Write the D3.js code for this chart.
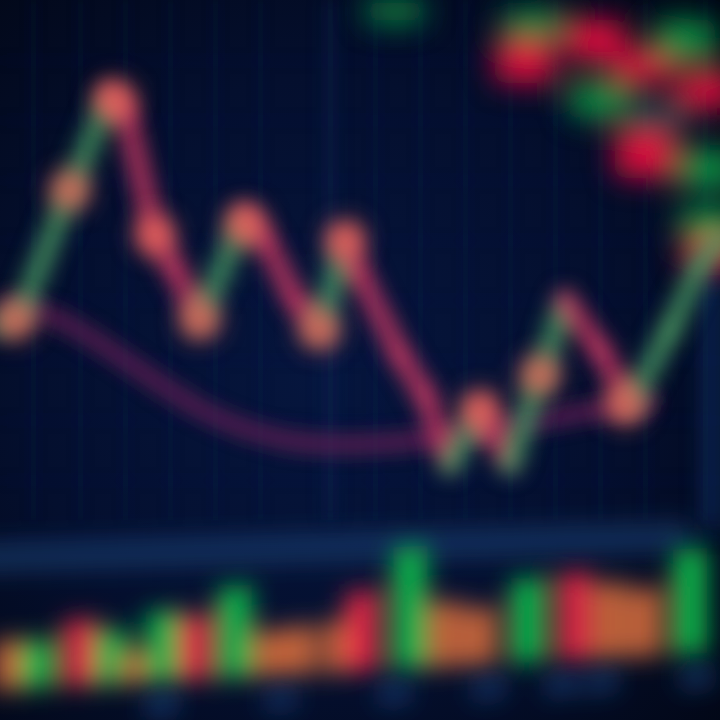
<!DOCTYPE html>
<html>
<head>
<meta charset="utf-8">
<script src="https://cdn.jsdelivr.net/npm/d3@7/dist/d3.min.js"></script>
<style>
html,body{margin:0;padding:0;background:#030a20;}
svg{display:block;}
</style>
</head>
<body>
<script>
// ---- data ----
const priceDays   = [0,2,7,11,12.5,15.5,17.5,20,24.5,26.5,29.5,32,34.5,36,40,42.5,45,48,51,54,56.5,60,63,67,70,72];
const priceValues = [45.8,47.5,68.3,84.2,81.7,60.8,55,46.7,64.2,60,50,45,60,54.2,40.8,34.2,22.5,31.7,22.5,37.5,50,41.7,32.5,45,55.8,60];

const nodeDays   = [1.5,7,11.5,15.5,20,24.5,32,34.5,48,54,62.5];
const nodeValues = [46.7,68.3,83.3,60.8,46.7,62.5,45,60,31.7,37.5,32.5];

const maDays   = [1,4,8,12,16,20,25,30,36,42,48,54,60,65];
const maValues = [49,48.5,45,40.5,36,31.5,28,26,25.8,26.5,28,30,31.7,33.3];

const volDays   = [1,3.8,8,11.2,13.8,16.3,19.5,23.5,27,30,34,36.2,41,44.5,48,52.8,57.5,61,64.5,69];
const volValues = [33,32,44,36,21,47,43,61,30,32,34,53,81,43,38,56,58,50,45,70];
const volTypes  = ["flat","up","down","up","flat","up","down","up","flat","flat","flat","down","up","flat","flat","up","down","flat","flat","up"];

const topDays   = [39.5,53.3,52.5,59.5,64.3,68.5,60,66,64.5,70.7,70.8,71,71.2];
const topOpen   = [0,4,16,8,20,8,33,40,52,29,60,83,96];
const topClose  = [9,15,33,24,33,24,47,53,71,43,75,96,107];
const topTypes  = ["up","up","down","down","down","up","up","dim","down","down","up","up","down"];

const gridDays  = [3.3,8,12.5,17,21.5,26,33,37.5,42,46.5,51,55.5,60,64.5,70.5];
const gridLevels = [10,20,30,40,50,60,70,80,90];
const axisDays  = [16,28,39.3,48.7,56,60,69.5];
const axisLabels = ["10","11","12","13","14","15","16"];

// ---- layout ----
const W = 720, H = 720;
const svg = d3.select("body").append("svg").attr("width", W).attr("height", H);
const defs = svg.append("defs");

const bg = defs.append("radialGradient").attr("id","bg").attr("cx","45%").attr("cy","52%").attr("r","75%");
bg.append("stop").attr("offset","0%").attr("stop-color","#06163e");
bg.append("stop").attr("offset","55%").attr("stop-color","#040f2e");
bg.append("stop").attr("offset","100%").attr("stop-color","#020716");

[["blurS",6],["blur",10],["blurL",12],["blurXL",15]].forEach(([id,s])=>{
  defs.append("filter").attr("id",id).attr("filterUnits","userSpaceOnUse")
    .attr("x",-200).attr("y",-200).attr("width",1120).attr("height",1120)
    .append("feGaussianBlur").attr("stdDeviation", s);
});

svg.append("rect").attr("width",W).attr("height",H).attr("fill","url(#bg)");

const x = d3.scaleLinear().domain([0,72]).range([0,W]);
const y = d3.scaleLinear().domain([0,100]).range([600,0]);
const yVol = d3.scaleLinear().domain([0,100]).range([690,540]);
const yTop = d3.scaleLinear().domain([0,100]).range([0,250]);

// ---- grid ----
const grid = svg.append("g").attr("filter","url(#blurS)");
grid.append("g")
  .call(d3.axisBottom(x).tickValues(gridDays).tickSize(520).tickFormat(""))
  .call(g=>g.select(".domain").remove())
  .call(g=>g.selectAll("line").attr("stroke","#16305e").attr("stroke-width",4).attr("opacity",0.25));
grid.append("g")
  .call(d3.axisRight(y).tickValues(gridLevels).tickSize(W).tickFormat(""))
  .call(g=>g.select(".domain").remove())
  .call(g=>g.selectAll("line").attr("stroke","#10244e").attr("stroke-width",3).attr("opacity",0.25));
svg.append("line").attr("x1",x(33)).attr("x2",x(33)).attr("y1",0).attr("y2",520)
  .attr("stroke","#1c3a70").attr("stroke-width",6).attr("opacity",0.5).attr("filter","url(#blur)");
svg.append("line").attr("x1",x(71.3)).attr("x2",x(71.3)).attr("y1",270).attr("y2",530)
  .attr("stroke","#1d4584").attr("stroke-width",16).attr("opacity",0.6).attr("filter","url(#blurL)");

// ---- top-right candles ----
const topG = svg.append("g").attr("filter","url(#blurXL)");
topG.selectAll("rect").data(topDays).join("rect")
  .attr("x", d=>x(d)-30)
  .attr("width", 60)
  .attr("y", (d,i)=>yTop(Math.min(topOpen[i],topClose[i])))
  .attr("height", (d,i)=>Math.abs(yTop(topClose[i])-yTop(topOpen[i])))
  .attr("rx",10)
  .attr("fill", (d,i)=> topTypes[i]==="up" ? "#0f8f42" : topTypes[i]==="down" ? "#e0103e" : "#1d5a5a")
  .attr("opacity", (d,i)=> topTypes[i]==="dim" ? 0.7 : 1);

// ---- moving average ----
const maLine = d3.line().x((d,i)=>x(maDays[i])).y((d,i)=>y(maValues[i])).curve(d3.curveBasis);
svg.append("path").datum(maDays).attr("d", maLine)
  .attr("fill","none").attr("stroke","#6a2256").attr("stroke-width",16)
  .attr("stroke-linecap","round").attr("filter","url(#blur)").attr("opacity",0.9);

// ---- price zigzag ----
const segs = d3.range(priceDays.length-1);
const priceG = svg.append("g").attr("filter","url(#blur)");
priceG.selectAll("line").data(segs).join("line")
  .attr("x1", i=>x(priceDays[i])).attr("y1", i=>y(priceValues[i]))
  .attr("x2", i=>x(priceDays[i+1])).attr("y2", i=>y(priceValues[i+1]))
  .attr("stroke", i=> priceValues[i+1] >= priceValues[i] ? "#4a9a62" : "#cc3a62")
  .attr("stroke-width", 22).attr("stroke-linecap","round").attr("opacity",0.8);

const nodeG = svg.append("g").attr("filter","url(#blurL)");
nodeG.selectAll("circle").data(nodeDays).join("circle")
  .attr("cx", d=>x(d)).attr("cy",(d,i)=>y(nodeValues[i]))
  .attr("r", 20).attr("fill","#f06a5c").attr("opacity",0.85);

// ---- lower panel (volume), slightly tilted like the photo ----
svg.append("g").attr("transform","skewY(-1.7)")
  .append("line").attr("x1",-20).attr("x2",680).attr("y1",yVol(90)+2).attr("y2",yVol(90)+2)
  .attr("stroke","#1a4478").attr("stroke-width",28).attr("stroke-linecap","round")
  .attr("opacity",0.6).attr("filter","url(#blurL)");
const low = svg.append("g").attr("transform","skewY(-3)");
const volG = low.append("g").attr("filter","url(#blurL)");
volG.selectAll("rect").data(volDays).join("rect")
  .attr("x", d=>x(d)-17).attr("width",34)
  .attr("y",(d,i)=>yVol(volValues[i])).attr("height",(d,i)=>yVol(0)-yVol(volValues[i]))
  .attr("fill",(d,i)=>({up:"#10c04c",down:"#ec2a46",flat:"#d06a3c"})[volTypes[i]])
  .attr("opacity",0.9);
const ax = low.append("g").attr("transform",`translate(0,${yVol(0)+12})`).attr("filter","url(#blurL)")
  .call(d3.axisBottom(x).tickValues(axisDays).tickSize(0).tickFormat((d,i)=>axisLabels[i]));
ax.select(".domain").remove();
ax.selectAll("text").attr("fill","#2a6cc0").attr("font-family","DejaVu Sans").attr("font-size",24).attr("font-weight","bold");
</script>
</body>
</html>
